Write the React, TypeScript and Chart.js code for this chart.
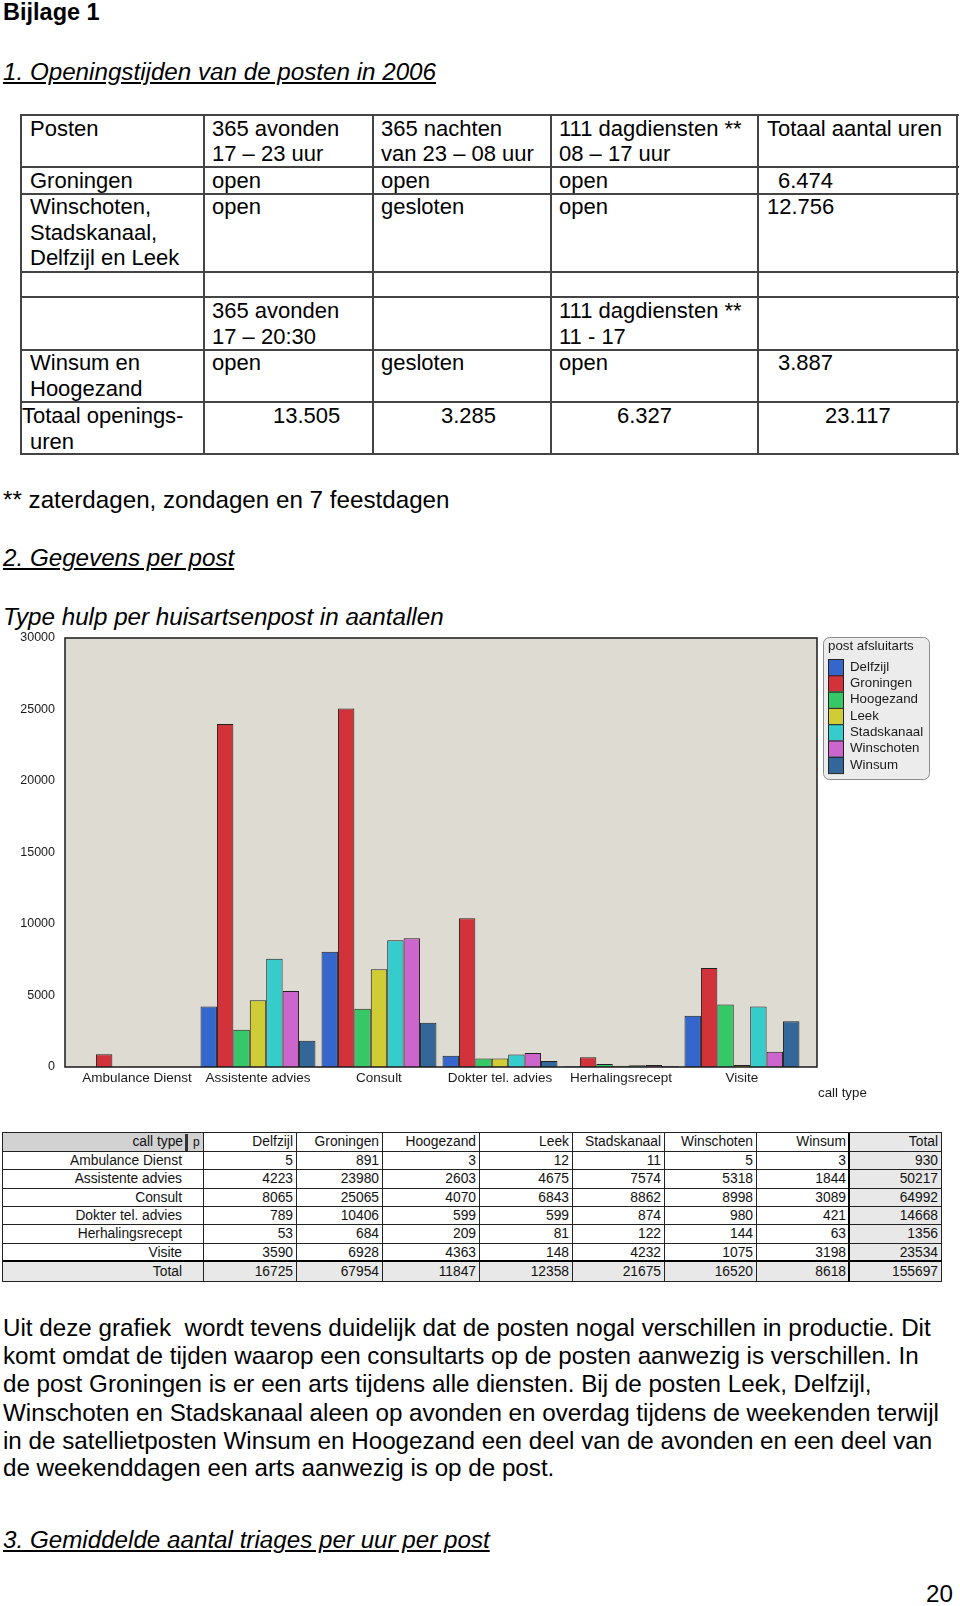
import React, { useEffect, useRef } from "react";
import { Chart, registerables } from "chart.js";

Chart.register(...registerables);

// ---------- chart / table data ----------
const categories = [
  "Ambulance Dienst",
  "Assistente advies",
  "Consult",
  "Dokter tel. advies",
  "Herhalingsrecept",
  "Visite",
];
const posts = ["Delfzijl", "Groningen", "Hoogezand", "Leek", "Stadskanaal", "Winschoten", "Winsum"];
const delfzijl = [5, 4223, 8065, 789, 53, 3590];
const groningen = [891, 23980, 25065, 10406, 684, 6928];
const hoogezand = [3, 2603, 4070, 599, 209, 4363];
const leek = [12, 4675, 6843, 599, 81, 148];
const stadskanaal = [11, 7574, 8862, 874, 122, 4232];
const winschoten = [5, 5318, 8998, 980, 144, 1075];
const winsum = [3, 1844, 3089, 421, 63, 3198];
const rowTotals = [930, 50217, 64992, 14668, 1356, 23534];
const colTotals = [16725, 67954, 11847, 12358, 21675, 16520, 8618];
const grandTotal = 155697;
const yTickValues = [0, 5000, 10000, 15000, 20000, 25000, 30000];
const seriesByPost = [delfzijl, groningen, hoogezand, leek, stadskanaal, winschoten, winsum];
const postColors = ["#3566cc", "#d2333a", "#36c866", "#cfcc36", "#37cccc", "#cc66cc", "#336699"];

// ---------- document texts ----------
const FONT = "'Liberation Sans', Arial, Helvetica, sans-serif";

const openTableTexts: [number, number, string][] = [
  [30, 129, "Posten"],
  [212, 129, "365 avonden"],
  [212, 154.5, "17 \u2013 23 uur"],
  [381, 129, "365 nachten"],
  [381, 154.5, "van 23 \u2013 08 uur"],
  [559, 129, "111 dagdiensten **"],
  [559, 154.5, "08 \u2013 17 uur"],
  [767, 129, "Totaal aantal uren"],
  [30, 181.5, "Groningen"],
  [212, 181.5, "open"],
  [381, 181.5, "open"],
  [559, 181.5, "open"],
  [778, 181.5, "6.474"],
  [30, 207.5, "Winschoten,"],
  [30, 233, "Stadskanaal,"],
  [30, 258.5, "Delfzijl en Leek"],
  [212, 207.5, "open"],
  [381, 207.5, "gesloten"],
  [559, 207.5, "open"],
  [767, 207.5, "12.756"],
  [212, 311.5, "365 avonden"],
  [212, 337, "17 \u2013 20:30"],
  [559, 311.5, "111 dagdiensten **"],
  [559, 337, "11 - 17"],
  [30, 363.5, "Winsum en"],
  [30, 389.5, "Hoogezand"],
  [212, 363.5, "open"],
  [381, 363.5, "gesloten"],
  [559, 363.5, "open"],
  [778, 363.5, "3.887"],
  [22, 416.5, "Totaal openings-"],
  [30, 442, "uren"],
  [273, 416.5, "13.505"],
  [441, 416.5, "3.285"],
  [617, 416.5, "6.327"],
  [825, 416.5, "23.117"],
];
const openColX = [21, 204, 373, 551, 758, 957];
const openRowY = [115, 167, 193.5, 271.5, 297.3, 349.5, 402, 453.5];

const paragraphLines = [
  "Uit deze grafiek  wordt tevens duidelijk dat de posten nogal verschillen in productie. Dit",
  "komt omdat de tijden waarop een consultarts op de posten aanwezig is verschillen. In",
  "de post Groningen is er een arts tijdens alle diensten. Bij de posten Leek, Delfzijl,",
  "Winschoten en Stadskanaal aleen op avonden en overdag tijdens de weekenden terwijl",
  "in de satellietposten Winsum en Hoogezand een deel van de avonden en een deel van",
  "de weekenddagen een arts aanwezig is op de post.",
];
const paragraphY = [1328, 1356, 1384, 1412.5, 1440.5, 1468];

const dataColX = [3, 204, 297, 383, 480, 573, 665, 757, 850, 942];
const dataRowY = [1133, 1152, 1170.3, 1188.7, 1207, 1225.3, 1243.7, 1262, 1282];

function Txt(props: any) {
  const { x, y, size, children, bold, italic, underline } = props;
  return (
    <div
      style={{
        position: "absolute",
        left: x,
        top: y - size * 0.6,
        fontSize: size,
        lineHeight: `${size * 1.2}px`,
        whiteSpace: "pre",
        fontWeight: bold ? 700 : 400,
        fontStyle: italic ? "italic" : "normal",
        textDecoration: underline ? "underline" : "none",
        color: "#000",
      }}
    >
      {children}
    </div>
  );
}

function OpeningTable() {
  const items: any[] = [];
  openRowY.forEach((y, i) =>
    items.push(
      <div
        key={"h" + i}
        style={{
          position: "absolute",
          left: openColX[0],
          top: y - 1,
          width: openColX[openColX.length - 1] - openColX[0] + 2,
          height: 2,
          background: "#444",
        }}
      />
    )
  );
  openColX.forEach((x, i) =>
    items.push(
      <div
        key={"v" + i}
        style={{
          position: "absolute",
          left: x - 1,
          top: openRowY[0] - 1,
          width: 2,
          height: openRowY[openRowY.length - 1] - openRowY[0] + 2,
          background: "#444",
        }}
      />
    )
  );
  openTableTexts.forEach(([x, y, t], i) =>
    items.push(
      <Txt key={"t" + i} x={x} y={y} size={22}>
        {t}
      </Txt>
    )
  );
  return <>{items}</>;
}

function DataTable() {
  const cells: any[] = [];
  const nRows = dataRowY.length - 1;
  const nCols = dataColX.length - 1;
  for (let r = 0; r < nRows; r++) {
    for (let c = 0; c < nCols; c++) {
      let text: any = "";
      if (r === 0) {
        text = c === 0 ? "" : c === nCols - 1 ? "Total" : posts[c - 1];
      } else if (r === nRows - 1) {
        text = c === 0 ? "Total" : c === nCols - 1 ? grandTotal : colTotals[c - 1];
      } else {
        text = c === 0 ? categories[r - 1] : c === nCols - 1 ? rowTotals[r - 1] : seriesByPost[c - 1][r - 1];
      }
      let bg = "#fff";
      if (c === nCols - 1 || r === nRows - 1) bg = "#e8e8e8";
      if (r === 0 && c === 0) bg = "#d2d2d2";
      const x0 = dataColX[c];
      const y0 = dataRowY[r];
      cells.push(
        <div
          key={r + "-" + c}
          style={{
            position: "absolute",
            left: x0,
            top: y0,
            width: dataColX[c + 1] - x0,
            height: dataRowY[r + 1] - y0,
            boxSizing: "border-box",
            borderRight: "1px solid #222",
            borderBottom: "1px solid #222",
            background: bg,
            textAlign: "right",
            paddingRight: c === 0 ? 21 : 3,
            fontSize: 13.8,
            lineHeight: `${dataRowY[r + 1] - y0 - 1}px`,
            color: "#111",
            whiteSpace: "pre",
            overflow: "hidden",
          }}
        >
          {String(text)}
        </div>
      );
    }
  }
  // header "call type" + "p"
  cells.push(
    <div
      key="ct"
      style={{
        position: "absolute",
        left: dataColX[0],
        top: dataRowY[0],
        width: 183 - dataColX[0],
        height: dataRowY[1] - dataRowY[0] - 1,
        textAlign: "right",
        fontSize: 13.8,
        lineHeight: `${dataRowY[1] - dataRowY[0] - 1}px`,
        color: "#111",
        whiteSpace: "pre",
      }}
    >
      call type
    </div>
  );
  cells.push(
    <div key="ctbar" style={{ position: "absolute", left: 185, top: dataRowY[0] + 1, width: 3, height: 17, background: "#333" }} />
  );
  cells.push(
    <div
      key="p"
      style={{
        position: "absolute",
        left: 193,
        top: dataRowY[0],
        fontSize: 12,
        lineHeight: `${dataRowY[1] - dataRowY[0] - 1}px`,
        color: "#111",
      }}
    >
      p
    </div>
  );
  const W = dataColX[dataColX.length - 1] - dataColX[0];
  const H = dataRowY[dataRowY.length - 1] - dataRowY[0];
  cells.push(<div key="top" style={{ position: "absolute", left: dataColX[0], top: dataRowY[0] - 1, width: W, height: 1, background: "#222" }} />);
  cells.push(<div key="left" style={{ position: "absolute", left: dataColX[0] - 1, top: dataRowY[0] - 1, width: 1, height: H + 1, background: "#222" }} />);
  cells.push(
    <div key="thickH" style={{ position: "absolute", left: dataColX[0], top: dataRowY[nRows - 1] - 2, width: W, height: 2, background: "#000" }} />
  );
  cells.push(
    <div key="thickV" style={{ position: "absolute", left: dataColX[nCols - 1] - 2, top: dataRowY[0], width: 2, height: H, background: "#000" }} />
  );
  return <>{cells}</>;
}

function BarChart() {
  const ref = useRef<HTMLCanvasElement>(null);
  useEffect(() => {
    const canvas = ref.current as HTMLCanvasElement;
    const decor = {
      id: "decor",
      beforeDatasetsDraw(chart: any) {
        const { ctx, chartArea: a } = chart;
        ctx.save();
        ctx.fillStyle = "#dedcd2";
        ctx.fillRect(a.left, a.top, a.right - a.left, a.bottom - a.top);
        ctx.restore();
      },
      afterDatasetsDraw(chart: any) {
        const { ctx, chartArea: a } = chart;
        ctx.save();
        ctx.strokeStyle = "#1a1a1a";
        ctx.lineWidth = 1.5;
        ctx.strokeRect(a.left, a.top, a.right - a.left, a.bottom - a.top);
        ctx.restore();
      },
      afterDraw(chart: any) {
        const ctx = chart.ctx;
        ctx.save();
        // legend box
        const lx = 823, ly = 12, lw = 106, lh = 142;
        ctx.beginPath();
        ctx.roundRect(lx + 0.5, ly + 0.5, lw, lh, 6);
        ctx.fillStyle = "#ececec";
        ctx.fill();
        ctx.strokeStyle = "#8c8c8c";
        ctx.lineWidth = 1;
        ctx.stroke();
        ctx.font = `13.3px ${FONT}`;
        ctx.fillStyle = "#1a1a1a";
        ctx.textBaseline = "middle";
        ctx.textAlign = "left";
        ctx.fillText("post afsluitarts", 828, 21);
        const sy = 34, sh = 16.3;
        chart.data.datasets.forEach((ds: any, i: number) => {
          ctx.fillStyle = ds.backgroundColor;
          ctx.fillRect(828, sy + i * sh, 16, sh);
          ctx.strokeStyle = "#222";
          ctx.lineWidth = 1;
          ctx.strokeRect(828.5, sy + i * sh + 0.5, 15, sh);
          ctx.fillStyle = "#1a1a1a";
          ctx.fillText(ds.label, 850, sy + i * sh + sh / 2);
        });
        // axis title
        ctx.fillText("call type", 818, 468);
        ctx.restore();
      },
    };
    const chart = new Chart(canvas, {
      type: "bar",
      data: {
        datasets: posts.map((p, k) => ({
          label: p,
          data: seriesByPost[k].map((v, i) => ({ x: i, y: v })),
          backgroundColor: postColors[k],
          borderColor: "#202020",
          borderWidth: 1,
          categoryPercentage: 0.95,
          barPercentage: 1,
        })),
      },
      options: {
        responsive: false,
        animation: false,
        devicePixelRatio: 1,
        events: [],
        layout: { padding: { top: 13, right: 143, bottom: 0, left: 0 } },
        plugins: {
          legend: { display: false },
          tooltip: { enabled: false },
          title: { display: false },
        },
        scales: {
          x: {
            type: "linear",
            min: -0.595,
            max: 5.62,
            offset: false,
            grid: { display: false, drawTicks: false, offset: false },
            border: { display: false },
            afterBuildTicks: (s: any) => {
              s.ticks = categories.map((_, i) => ({ value: i }));
            },
            afterFit: (s: any) => {
              s.height = 38;
              s.paddingLeft = 0;
              s.paddingRight = 0;
            },
            ticks: {
              autoSkip: false,
              maxRotation: 0,
              minRotation: 0,
              padding: 3,
              color: "#1a1a1a",
              font: { family: FONT, size: 13.5 },
              callback: (v: any) => categories[v] ?? "",
            },
          },
          y: {
            type: "linear",
            min: 0,
            max: 30000,
            grid: { display: false, drawTicks: false },
            border: { display: false },
            afterBuildTicks: (s: any) => {
              s.ticks = yTickValues.map((v) => ({ value: v }));
            },
            afterFit: (s: any) => {
              s.width = 65;
              s.paddingTop = 0;
              s.paddingBottom = 0;
            },
            ticks: {
              padding: 10,
              color: "#1a1a1a",
              font: { family: FONT, size: 12.5 },
              callback: (v: any) => String(v),
            },
          },
        },
      } as any,
      plugins: [decor],
    } as any);
    return () => chart.destroy();
  }, []);
  return (
    <canvas
      ref={ref}
      width={960}
      height={480}
      style={{ position: "absolute", left: 0, top: 625, width: 960, height: 480 }}
    />
  );
}

export default function App() {
  return (
    <div
      style={{
        position: "absolute",
        left: 0,
        top: 0,
        width: 960,
        height: 1606,
        background: "#fff",
        fontFamily: FONT,
        overflow: "hidden",
      }}
    >
      <Txt x={3} y={12.5} size={23.5} bold>
        Bijlage 1
      </Txt>
      <Txt x={3} y={71.5} size={24.2} italic underline>
        1. Openingstijden van de posten in 2006
      </Txt>
      <OpeningTable />
      <Txt x={3} y={500} size={24.2}>
        ** zaterdagen, zondagen en 7 feestdagen
      </Txt>
      <Txt x={3} y={558} size={24.2} italic underline>
        2. Gegevens per post
      </Txt>
      <Txt x={3} y={616.5} size={24.2} italic>
        Type hulp per huisartsenpost in aantallen
      </Txt>
      <BarChart />
      <DataTable />
      {paragraphLines.map((l, i) => (
        <Txt key={i} x={3} y={paragraphY[i]} size={24.2}>
          {l}
        </Txt>
      ))}
      <Txt x={3} y={1540} size={24.2} italic underline>
        3. Gemiddelde aantal triages per uur per post
      </Txt>
      <Txt x={926} y={1594} size={24.2}>
        20
      </Txt>
    </div>
  );
}
